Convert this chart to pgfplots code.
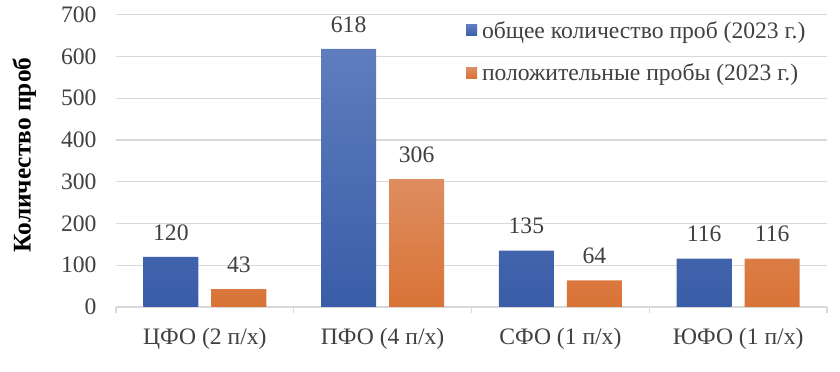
\documentclass[border=0pt]{standalone}
\usepackage{fontspec}
\setmainfont{Liberation Serif}
\usepackage{pgfplots}
\pgfplotsset{compat=1.18}
\definecolor{blueT}{HTML}{5F7DBE}
\definecolor{blueB}{HTML}{3A5DA8}
\definecolor{orT}{HTML}{DE8D60}
\definecolor{orB}{HTML}{D97336}
\definecolor{txt}{HTML}{404040}
\definecolor{gridc}{HTML}{D9D9D9}
\newcommand{\fs}{\fontsize{23.7}{28}\selectfont}
\pgfplotsset{myleg/.style={legend image code/.code={\path[##1,draw=none] (3bp,-5.5bp) rectangle (14bp,5.5bp);}}}
\begin{document}
\begin{tikzpicture}
\begin{axis}[name=ax,
 scale only axis, width=711bp, height=292.3bp,
 xmin=-0.5, xmax=3.5, ymin=0, ymax=700,
 ybar=13bp, bar width=55bp,
 xtick={0,1,2,3},
 xticklabels={ЦФО (2 п/х), ПФО (4 п/х), СФО (1 п/х), ЮФО (1 п/х)},
 ytick={0,100,...,700},
 /pgf/number format/assume math mode=true,
 ymajorgrids, grid style={gridc, line width=1.2bp},
 axis x line*=bottom, axis y line*=left,
 x axis line style={gridc, line width=1.2bp},
 y axis line style={draw=none},
 major x tick style={draw=none}, major y tick style={draw=none},
 extra x ticks={-0.5,0.5,1.5,2.5,3.5}, extra x tick labels={},
 extra x tick style={major tick length=6bp, tick align=outside, major x tick style={draw=gridc, line width=1.2bp}},
 ticklabel style={font=\fs, text=txt},
 yticklabel style={xshift=-16bp},
 xticklabel style={yshift=-13bp},
 ylabel={\bfseries Количество проб},
 ylabel style={font=\fontsize{25.5}{30}\selectfont, text=black, at={(axis description cs:-0.129,0.52)}, anchor=center},
 legend style={at={(rel axis cs:0.492,0.985)}, anchor=north west, draw=none, fill=none, font=\fs, text=txt, row sep=20bp, inner sep=0pt,
   /tikz/every odd column/.append style={column sep=3bp}},
 legend cell align=left,
 nodes near coords,
 every node near coord/.append style={font=\fs, text=txt, yshift=13bp},
]
\addplot[myleg, draw=none, top color=blueT, bottom color=blueB] coordinates {(0,120) (1,618) (2,135) (3,116)};
\addlegendentry{общее количество проб (2023 г.)}
\addplot[myleg, draw=none, top color=orT, bottom color=orB] coordinates {(0,43) (1,306) (2,64) (3,116)};
\addlegendentry{положительные пробы (2023 г.)}
\end{axis}
\pgfresetboundingbox
\path ([shift={(-116bp,-65bp)}]ax.south west) rectangle ([shift={(13bp,14.7bp)}]ax.north east);
\end{tikzpicture}
\end{document}
